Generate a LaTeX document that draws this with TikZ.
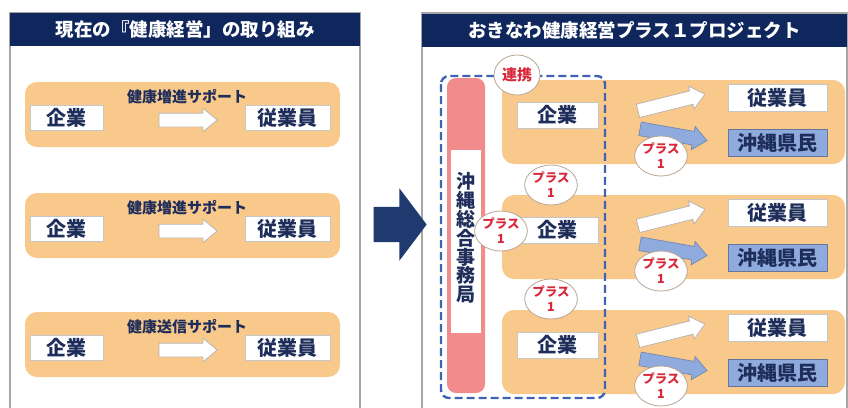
\documentclass[tikz,border=0pt]{standalone}
\usepackage{fontspec}
\setmainfont{Noto Sans CJK JP}
\usetikzlibrary{shapes.arrows,shapes.geometric,positioning}

\definecolor{hdnavy}{HTML}{10275E}
\definecolor{txtnavy}{HTML}{1E2D5A}
\definecolor{bandorange}{HTML}{F9C98C}
\definecolor{barpink}{HTML}{F28B8C}
\definecolor{boxblue}{HTML}{8FAADC}
\definecolor{dashblue}{HTML}{3F62B3}
\definecolor{plusred}{HTML}{D8283A}
\definecolor{ringgray}{HTML}{B8A593}
\definecolor{panelgray}{HTML}{A6A6A6}
\definecolor{bignavy}{HTML}{1F3A6E}

\tikzset{
  panel/.style={draw=panelgray, line width=1.2pt, fill=white},
  header/.style={fill=hdnavy, text=white, inner sep=0pt,
    font=\bfseries\fontsize{18.5}{20}\selectfont},
  band/.style={fill=bandorange, rounded corners=12pt},
  supportlab/.style={text=txtnavy, inner sep=0pt,
    font=\bfseries\fontsize{15}{16}\selectfont},
  whitebox/.style={draw=gray!45, fill=white, line width=0.8pt, inner sep=0pt,
    text=txtnavy, font=\bfseries\fontsize{20}{22}\selectfont},
  bluebox/.style={whitebox, fill=boxblue, draw=boxblue!70!black},
  plusone/.style={ellipse, draw=ringgray, fill=white, line width=0.8pt,
    minimum width=46pt, minimum height=40pt, inner sep=0pt, align=center,
    text=plusred, font=\bfseries\fontsize{12.5}{15}\selectfont},
  fatarrow/.style={single arrow, draw=gray!60, fill=white, line width=0.7pt,
    inner sep=0pt, text height=13pt, text depth=0pt,
    single arrow head extend=5pt, single arrow tip angle=80}
}

\begin{document}
\begin{tikzpicture}[x=1pt, y=-1pt]
\useasboundingbox (0,0) rectangle (848,407);
\clip (0,0) rectangle (848,407);

% two panels
\draw[panel] (10,13) rectangle (360,430);
\draw[panel] (422,13) rectangle (847,430);
\node[header, minimum width=350pt, minimum height=33pt] (headL) at (185,29.5) {現在の『健康経営」の取り組み};
\node[header, minimum width=425pt, minimum height=33pt] (headR) at (634.5,30) {おきなわ健康経営プラス１プロジェクト};

% current rows
\foreach \t/\lab [count=\i] in {82/健康増進サポート, 193/健康増進サポート, 312/健康送信サポート}{
  \fill[band] (25,\t) rectangle (340,\t+65);
  \node[supportlab] (supLab\i) at (187,\t+15) {\lab};
  \node[whitebox, minimum width=73pt, minimum height=25pt] (firmL\i) at (66.5,\t+36) {企業};
  \node[whitebox, minimum width=85pt, minimum height=25pt] (staffL\i) at (287.5,\t+36) {従業員};
  \node[fatarrow, minimum height=58pt] (supArr\i) at (184,\t+38) {};
}

% big arrow between panels
\node[single arrow, fill=bignavy, inner sep=0pt, text height=35pt, text depth=0pt,
  minimum height=53pt, single arrow head extend=18.5pt, single arrow tip angle=106] (next) at (393.5,224.5) {};

% project rows
\foreach \t [count=\i] in {80,195,310}{
  \fill[band] (502,\t) rectangle (845,\t+84);
  \node[whitebox, minimum width=81pt, minimum height=26pt] (firmR\i) at (557.5,\t+35) {企業};
  \node[whitebox, minimum width=99pt, minimum height=27pt] (staffR\i) at (777.5,\t+18) {従業員};
  \node[bluebox, minimum width=99pt, minimum height=27pt] (kenmin\i) at (777.5,\t+63) {沖縄県民};
  \node[fatarrow, minimum height=69pt, rotate=14] (toStaff\i) at (667.5,\t+23.5) {};
  \node[fatarrow, fill=boxblue, draw=boxblue!80!black, minimum height=68pt, rotate=-10] (toKen\i) at (669.5,\t+54) {};
  \node[plusone] (plusR\i) at (661,\t+76) {プラス\\1};
}

% bureau bar and dashed partnership frame
\fill[barpink, rounded corners=9pt] (447,78) rectangle (485,393);
\fill[white] (451,150) rectangle (481,333);
\node[text=txtnavy, align=center, inner sep=0pt,
  font=\bfseries\fontsize{19}{18.8}\selectfont] (bureau) at (466,238) {沖\\縄\\総\\合\\事\\務\\局};
\draw[dashblue, line width=2.4pt, dash pattern=on 8pt off 4pt, rounded corners=8pt] (441,76) rectangle (605,398);

\node[plusone, font=\bfseries\fontsize{15}{16}\selectfont] (renkei) at (517,75) {連携};
\node[plusone] (plusA) at (551,185) {プラス\\1};
\node[plusone] (plusB) at (501,231) {プラス\\1};
\node[plusone] (plusC) at (551,299) {プラス\\1};
\end{tikzpicture}
\end{document}
